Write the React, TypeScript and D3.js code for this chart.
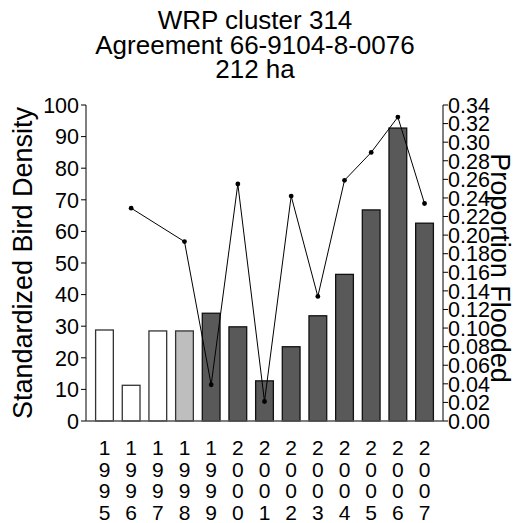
import React from "react";
import * as d3 from "d3";

const titleLines = ["WRP cluster 314", "Agreement 66-9104-8-0076", "212 ha"];
const years = ["1995", "1996", "1997", "1998", "1999", "2000", "2001", "2002", "2003", "2004", "2005", "2006", "2007"];
const density = [28.8, 11.3, 28.5, 28.5, 34.1, 29.8, 12.7, 23.5, 33.3, 46.4, 66.8, 92.7, 62.6];
const barKind = ["pre", "pre", "pre", "enroll", "post", "post", "post", "post", "post", "post", "post", "post", "post"];
const flooded: (number | null)[] = [null, 0.229, null, 0.193, 0.039, 0.255, 0.021, 0.242, 0.134, 0.259, 0.289, 0.327, 0.234];
const leftTicks = [0, 10, 20, 30, 40, 50, 60, 70, 80, 90, 100];
const rightTicks = d3.range(0, 18).map((i) => i * 0.02);

const W = 517, H = 523;
const FONT = "'Liberation Sans', Arial, Helvetica, sans-serif";

export default function App() {
  const x0 = 86, x1 = 443, yTop = 105, yBot = 421;
  const x = d3.scaleBand<string>().domain(years).range([x0, x1]).paddingInner(0.335).paddingOuter(0.36);
  const yL = d3.scaleLinear().domain([0, 100]).range([yBot, yTop]);
  const yR = d3.scaleLinear().domain([0, 0.34]).range([yBot, yTop]);
  const pts = years
    .map((yr, i) => ({ yr, v: flooded[i] }))
    .filter((d) => d.v !== null) as { yr: string; v: number }[];
  const line = d3
    .line<{ yr: string; v: number }>()
    .x((d) => (x(d.yr) as number) + x.bandwidth() / 2)
    .y((d) => yR(d.v));
  const fillFor = (k: string) => (k === "pre" ? "#ffffff" : k === "enroll" ? "#bebebe" : "#595959");
  return (
    <svg width={W} height={H} style={{ position: "absolute", left: 0, top: 0, background: "#fff" }} fontFamily={FONT}>
      <rect x={0} y={0} width={W} height={H} fill="#fff" />
      {titleLines.map((t, i) => (
        <text key={t} x={255} y={29 + i * 24.5} textAnchor="middle" fontSize={26} fill="#000">
          {t}
        </text>
      ))}
      {years.map((yr, i) => (
        <rect
          key={yr}
          x={x(yr)}
          y={yL(density[i])}
          width={x.bandwidth()}
          height={yBot - yL(density[i])}
          fill={fillFor(barKind[i])}
          stroke={barKind[i] === "post" ? "#111" : "#333"}
          strokeWidth={1.3}
        />
      ))}
      <path d={line(pts) || ""} fill="none" stroke="#000" strokeWidth={1} />
      {pts.map((d) => (
        <circle key={d.yr} cx={(x(d.yr) as number) + x.bandwidth() / 2} cy={yR(d.v)} r={2.4} fill="#000" />
      ))}
      {/* axes */}
      <line x1={x0} x2={x0} y1={yTop} y2={yBot} stroke="#000" strokeWidth={1} />
      <line x1={x1} x2={x1} y1={yTop} y2={yBot} stroke="#000" strokeWidth={1} />
      <line x1={x0} x2={x1} y1={yBot} y2={yBot} stroke="#555" strokeWidth={1.3} />
      {leftTicks.map((t) => (
        <g key={t}>
          <line x1={x0 - 5} x2={x0} y1={yL(t)} y2={yL(t)} stroke="#000" />
          <text x={x0 - 7} y={yL(t)} dy="0.36em" textAnchor="end" fontSize={21.5}>
            {t}
          </text>
        </g>
      ))}
      {rightTicks.map((t) => (
        <g key={t}>
          <line x1={x1} x2={x1 + 5} y1={yR(t)} y2={yR(t)} stroke="#000" />
          <text x={x1 + 5} y={yR(t)} dy="0.36em" textAnchor="start" fontSize={21.5}>
            {t.toFixed(2)}
          </text>
        </g>
      ))}
      {years.map((yr) => (
        <g key={yr}>
          {yr.split("").map((c, j) => (
            <text
              key={j}
              x={(x(yr) as number) + x.bandwidth() / 2}
              y={455 + j * 21.6}
              textAnchor="middle"
              fontSize={21}
            >
              {c}
            </text>
          ))}
        </g>
      ))}
      <text transform={`translate(32,263) rotate(-90)`} textAnchor="middle" fontSize={27}>
        Standardized Bird Density
      </text>
      <text transform={`translate(491,268) rotate(90)`} textAnchor="middle" fontSize={27}>
        Proportion Flooded
      </text>
    </svg>
  );
}
